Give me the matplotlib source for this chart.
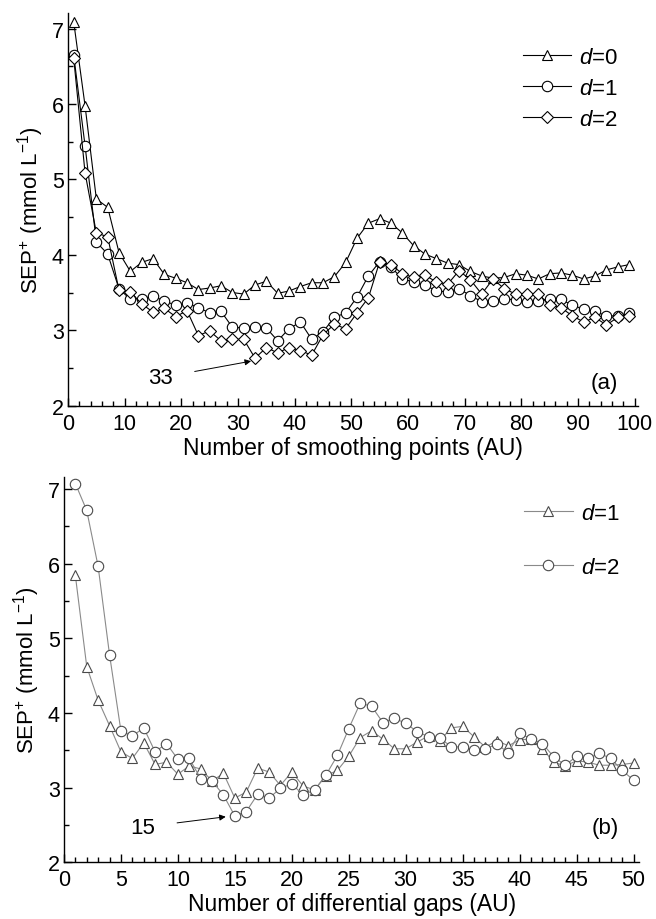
import matplotlib
matplotlib.use('Agg')
import matplotlib.pyplot as plt
from matplotlib.ticker import MultipleLocator

plt.rcParams['font.family'] = ['Liberation Sans', 'DejaVu Sans']
plt.rcParams['mathtext.fontset'] = 'custom'
plt.rcParams['mathtext.rm'] = 'Liberation Sans'
plt.rcParams['mathtext.it'] = 'Liberation Sans:italic'
plt.rcParams['mathtext.default'] = 'regular'

# (a) smoothing points
x_smooth = list(range(1, 100, 2))
sep_d0 = [7.09, 5.98, 4.74, 4.63, 4.03, 3.78, 3.90, 3.95, 3.74, 3.69,
          3.63, 3.54, 3.56, 3.59, 3.50, 3.48, 3.60, 3.65, 3.49, 3.52,
          3.58, 3.63, 3.63, 3.71, 3.90, 4.22, 4.42, 4.48, 4.42, 4.29,
          4.12, 4.01, 3.95, 3.89, 3.87, 3.78, 3.72, 3.69, 3.70, 3.75,
          3.73, 3.68, 3.75, 3.76, 3.73, 3.68, 3.72, 3.80, 3.84, 3.87]
sep_d1 = [6.65, 5.45, 4.17, 4.01, 3.55, 3.41, 3.42, 3.45, 3.39, 3.33,
          3.36, 3.30, 3.23, 3.25, 3.04, 3.03, 3.04, 3.03, 2.86, 3.02,
          3.11, 2.88, 2.98, 3.17, 3.23, 3.44, 3.72, 3.91, 3.84, 3.68,
          3.64, 3.60, 3.52, 3.51, 3.55, 3.46, 3.38, 3.39, 3.42, 3.40,
          3.38, 3.39, 3.42, 3.41, 3.33, 3.28, 3.25, 3.19, 3.19, 3.23]
sep_d2 = [6.61, 5.09, 4.29, 4.24, 3.53, 3.51, 3.35, 3.24, 3.29, 3.18,
          3.26, 2.93, 2.99, 2.86, 2.88, 2.88, 2.63, 2.77, 2.70, 2.77,
          2.73, 2.67, 2.94, 3.08, 3.02, 3.23, 3.43, 3.91, 3.87, 3.75,
          3.70, 3.73, 3.64, 3.61, 3.79, 3.67, 3.48, 3.68, 3.55, 3.48,
          3.48, 3.48, 3.33, 3.30, 3.19, 3.11, 3.17, 3.07, 3.17, 3.19]

# (b) differential gaps
x_gap = list(range(1, 51))
gap_d1 = [5.84, 4.62, 4.17, 3.83, 3.48, 3.39, 3.60, 3.31, 3.34, 3.18,
          3.29, 3.25, 3.09, 3.19, 2.86, 2.94, 3.26, 3.21, 3.03, 3.21,
          3.02, 2.97, 3.16, 3.23, 3.42, 3.67, 3.76, 3.65, 3.52, 3.52,
          3.61, 3.69, 3.63, 3.80, 3.82, 3.68, 3.54, 3.63, 3.56, 3.64,
          3.65, 3.52, 3.34, 3.29, 3.36, 3.34, 3.30, 3.30, 3.31, 3.33]
gap_d2 = [7.07, 6.71, 5.96, 4.78, 3.76, 3.69, 3.80, 3.48, 3.59, 3.38,
          3.39, 3.12, 3.09, 2.90, 2.62, 2.68, 2.91, 2.86, 2.99, 3.05,
          2.90, 2.97, 3.17, 3.43, 3.79, 4.13, 4.09, 3.87, 3.93, 3.86,
          3.75, 3.68, 3.66, 3.55, 3.54, 3.50, 3.52, 3.58, 3.47, 3.73,
          3.65, 3.59, 3.41, 3.30, 3.42, 3.39, 3.46, 3.39, 3.23, 3.10]

FS = 16
TICK_FS = 15.5
XLAB_FS = 16.5

fig = plt.figure(figsize=(6.56, 9.2), dpi=100)
ax1 = fig.add_axes([0.1037, 0.558, 0.869, 0.427])
ax2 = fig.add_axes([0.0975, 0.0616, 0.877, 0.419])


def style_axis(ax):
    ax.spines['top'].set_visible(False)
    ax.spines['right'].set_visible(False)
    for s in ['left', 'bottom']:
        ax.spines[s].set_linewidth(1.0)
    ax.tick_params(which='both', direction='in', labelsize=TICK_FS, top=False, right=False)
    ax.tick_params(axis='x', pad=5)
    ax.tick_params(axis='y', pad=3)
    ax.tick_params(which='major', length=6, width=1.0)
    ax.tick_params(which='minor', length=3.5, width=1.0)
    ax.yaxis.set_major_locator(MultipleLocator(1))
    ax.yaxis.set_minor_locator(MultipleLocator(0.5))
    ax.set_ylabel('SEP$^{+}$ (mmol L$^{-1}$)', fontsize=FS, labelpad=4)


mk = dict(markerfacecolor='white', markersize=7.5, markeredgewidth=0.8)
ax1.plot(x_smooth, sep_d0, '-^', color='black', lw=0.8, label=r'$\it{d}$=0', **mk)
ax1.plot(x_smooth, sep_d1, '-o', color='black', lw=0.8, label=r'$\it{d}$=1', **mk)
ax1.plot(x_smooth, sep_d2, '-D', color='black', lw=0.8, label=r'$\it{d}$=2',
         markerfacecolor='white', markersize=6.5, markeredgewidth=0.8)
style_axis(ax1)
ax1.set_xlim(0, 100.6)
ax1.set_ylim(2, 7.21)
ax1.xaxis.set_major_locator(MultipleLocator(10))
ax1.xaxis.set_minor_locator(MultipleLocator(2))
ax1.set_xlabel('Number of smoothing points (AU)', fontsize=XLAB_FS, labelpad=1.5)
ax1.legend(loc='upper right', bbox_to_anchor=(1.0, 0.965), frameon=False, fontsize=FS,
           handlelength=2.2, labelspacing=0.45, handletextpad=0.35)
ax1.annotate('33', xy=(32.3, 2.59), xytext=(16.3, 2.37), fontsize=FS,
             ha='center', va='center',
             arrowprops=dict(arrowstyle='-|>', color='black', lw=0.7,
                             shrinkA=14, shrinkB=0, mutation_scale=9))
ax1.text(94.7, 2.31, '(a)', fontsize=FS, ha='center', va='center')

grey = '#4a4a4a'
ax2.plot(x_gap, gap_d1, '-^', color='#8a8a8a', lw=0.8, label=r'$\it{d}$=1',
         markeredgecolor=grey, **mk)
ax2.plot(x_gap, gap_d2, '-o', color='#8a8a8a', lw=0.8, label=r'$\it{d}$=2',
         markeredgecolor=grey, **mk)
style_axis(ax2)
ax2.set_xlim(0, 50.5)
ax2.set_ylim(2, 7.16)
ax2.xaxis.set_major_locator(MultipleLocator(5))
ax2.xaxis.set_minor_locator(MultipleLocator(1))
ax2.set_xlabel('Number of differential gaps (AU)', fontsize=XLAB_FS, labelpad=1.5)
ax2.legend(loc='upper right', bbox_to_anchor=(1.0, 0.985), frameon=False, fontsize=FS,
           handlelength=2.2, labelspacing=1.5, handletextpad=0.35)
ax2.annotate('15', xy=(14.2, 2.61), xytext=(6.9, 2.47), fontsize=FS,
             ha='center', va='center',
             arrowprops=dict(arrowstyle='-|>', color='black', lw=0.7,
                             shrinkA=14, shrinkB=0, mutation_scale=9))
ax2.text(47.5, 2.47, '(b)', fontsize=FS, ha='center', va='center')

fig.savefig('out.png', dpi=100)
